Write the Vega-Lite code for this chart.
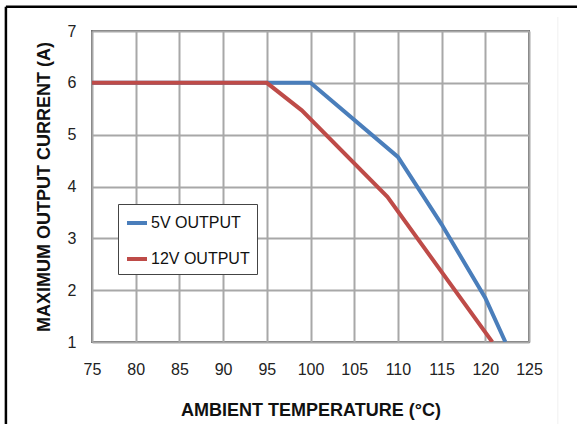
{
  "$schema": "https://vega.github.io/schema/vega-lite/v6.json",
  "width": 437,
  "height": 311,
  "autosize": {"type": "none"},
  "padding": {"left": 92, "top": 31, "right": 48, "bottom": 82},
  "background": "white",
  "config": {
    "font": "Liberation Sans",
    "view": {"stroke": "#6e6e6e", "strokeWidth": 2},
    "axis": {"labelFont": "Liberation Sans", "titleFont": "Liberation Sans"}
  },
  "datasets": {
    "curves": [
      {"temp": 75, "current": 6, "series": "5V OUTPUT"},
      {"temp": 100, "current": 6, "series": "5V OUTPUT"},
      {"temp": 110, "current": 4.57, "series": "5V OUTPUT"},
      {"temp": 115, "current": 3.27, "series": "5V OUTPUT"},
      {"temp": 120, "current": 1.85, "series": "5V OUTPUT"},
      {"temp": 122.3, "current": 1, "series": "5V OUTPUT"},
      {"temp": 75, "current": 6, "series": "12V OUTPUT"},
      {"temp": 95, "current": 6, "series": "12V OUTPUT"},
      {"temp": 99, "current": 5.47, "series": "12V OUTPUT"},
      {"temp": 108.8, "current": 3.8, "series": "12V OUTPUT"},
      {"temp": 120.8, "current": 1, "series": "12V OUTPUT"}
    ]
  },
  "layer": [
    {
      "data": {"name": "curves"},
      "mark": {"type": "line", "strokeWidth": 4, "clip": true},
      "encoding": {
        "x": {
          "field": "temp", "type": "quantitative",
          "scale": {"domain": [75, 125], "nice": false},
          "axis": {
            "values": [75, 80, 85, 90, 95, 100, 105, 110, 115, 120, 125],
            "title": "AMBIENT TEMPERATURE (°C)",
            "grid": true, "gridColor": "#a8a8a8", "gridWidth": 2,
            "domain": false, "ticks": false, "labelFlush": false,
            "labelFontSize": 16, "labelColor": "#222222", "labelPadding": 19,
            "titleFontSize": 18, "titleFontWeight": "bold", "titleColor": "#111111", "titlePadding": 24
          }
        },
        "y": {
          "field": "current", "type": "quantitative",
          "scale": {"domain": [1, 7], "nice": false},
          "axis": {
            "values": [1, 2, 3, 4, 5, 6, 7],
            "title": "MAXIMUM OUTPUT CURRENT (A)",
            "grid": true, "gridColor": "#a8a8a8", "gridWidth": 2,
            "domain": false, "ticks": false, "labelFlush": false,
            "labelFontSize": 16, "labelColor": "#222222", "labelPadding": 16,
            "titleFontSize": 18, "titleFontWeight": "bold", "titleColor": "#111111", "titlePadding": 14
          }
        },
        "color": {
          "field": "series", "type": "nominal",
          "scale": {"domain": ["5V OUTPUT", "12V OUTPUT"], "range": ["#4a7ebb", "#be4b48"]},
          "legend": {
            "title": null,
            "orient": "none",
            "legendX": 26,
            "legendY": 173,
            "symbolType": "stroke",
            "symbolStrokeWidth": 4,
            "symbolSize": 400,
            "labelFontSize": 16,
            "labelColor": "#111111",
            "labelOffset": 2,
            "rowPadding": 16,
            "padding": 7,
            "strokeColor": "#444444",
            "fillColor": "white"
          }
        }
      }
    },
    {
      "data": {"values": [{}]},
      "mark": {"type": "rule", "color": "black", "strokeWidth": 2.5, "clip": false},
      "encoding": {
        "x": {"datum": 65.15},
        "y": {"datum": 7.47},
        "y2": {"datum": -0.7}
      }
    },
    {
      "data": {"values": [{}]},
      "mark": {"type": "rule", "color": "black", "strokeWidth": 2.5, "clip": false},
      "encoding": {
        "y": {"datum": 7.47},
        "x": {"datum": 65.15},
        "x2": {"datum": 131}
      }
    },
    {
      "data": {"values": [{}]},
      "mark": {"type": "rule", "color": "#f0f0f0", "strokeWidth": 1, "clip": false},
      "encoding": {
        "x": {"datum": 128.3},
        "y": {"datum": 7.27},
        "y2": {"datum": -0.7}
      }
    }
  ]
}
